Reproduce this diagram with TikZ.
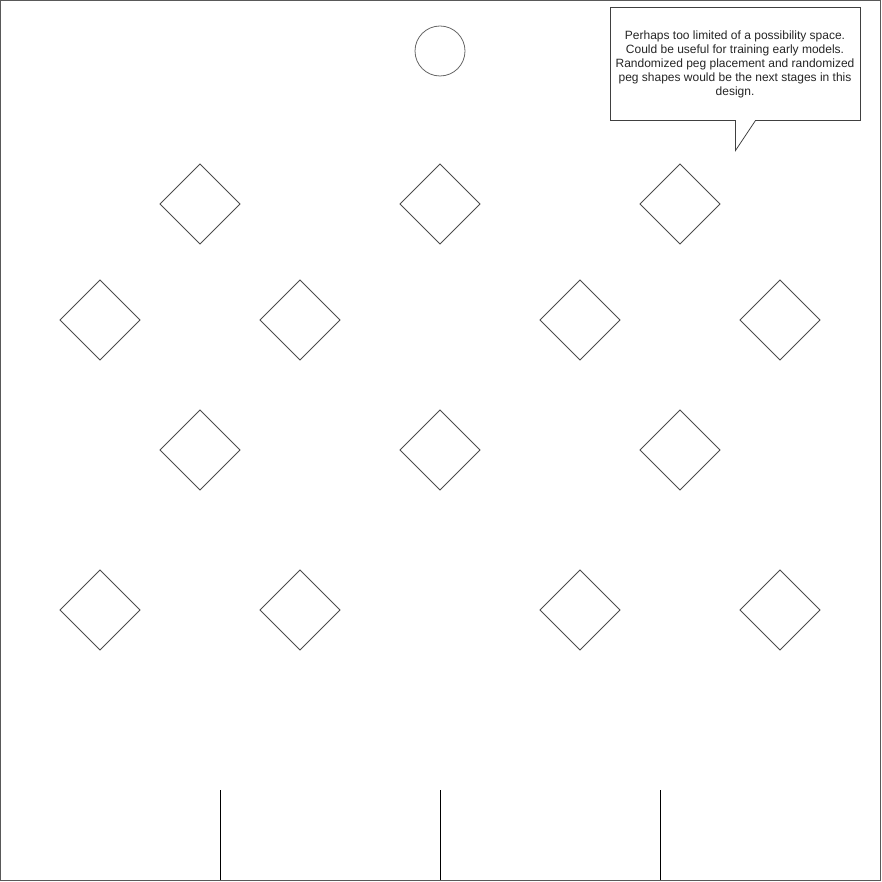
\documentclass[tikz,border=0pt]{standalone}
\usepackage{fontspec}
\setmainfont{Liberation Sans}
\begin{document}
\begin{tikzpicture}[x=1pt,y=-1pt,
  frame/.style={draw=black!65,line width=1pt},
  peg/.style={draw=black!70,line width=0.8pt},
  ball/.style={draw=black!60,line width=0.8pt},
  divider/.style={draw=black,line width=1pt},
  callout/.style={draw=black!75,line width=0.8pt,fill=white},
  note/.style={align=center,font=\fontsize{12}{14}\selectfont,text=black!85}]
\useasboundingbox (0,0) rectangle (881,882);
\draw[frame] (0.5,0.5) rectangle (880.5,880.5);
\node[ball,circle,minimum size=50pt,inner sep=0pt] (ball) at (440,51) {};
% pegs
\foreach \n/\x/\y in {a1/200/204,a2/440/204,a3/680/204,
  b1/100/320,b2/300/320,b3/580/320,b4/780/320,
  c1/200/450,c2/440/450,c3/680/450,
  d1/100/610,d2/300/610,d3/580/610,d4/780/610}{
  \coordinate (\n) at (\x,\y);
  \draw[peg] (\x,\y-40) -- (\x+40,\y) -- (\x,\y+40) -- (\x-40,\y) -- cycle;
}
% dividers
\foreach \x/\n in {220/p,440/q,660/r}{
  \coordinate (\n top) at (\x,790);
  \coordinate (\n bot) at (\x,880);
  \draw[divider] (\n top) -- (\n bot);
}
% callout
\draw[callout] (610.5,7.5) -- (860.5,7.5) -- (860.5,120.5) -- (755.5,120.5) -- (735.5,150.5) -- (735.5,120.5) -- (610.5,120.5) -- cycle;
\node[note] (txt) at (735,64) {Perhaps too limited of a possibility space.\\Could be useful for training early models.\\Randomized peg placement and randomized\\peg shapes would be the next stages in this\\design.};
\end{tikzpicture}
\end{document}
